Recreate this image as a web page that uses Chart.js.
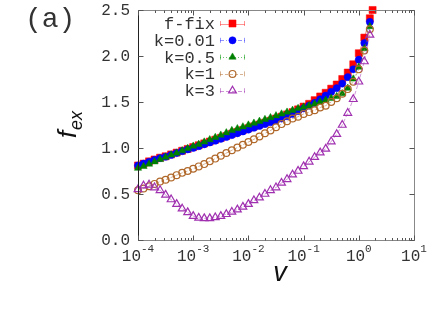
<!DOCTYPE html>
<html><head><meta charset="utf-8">
<script src="https://cdn.jsdelivr.net/npm/chart.js@4/dist/chart.umd.min.js"></script>
<style>html,body{margin:0;padding:0;background:#fff}#wrap{width:436px;height:312px}</style>
</head><body><div id="wrap"><canvas id="c" width="436" height="312"></canvas></div>
<script>
// exponents of v (log10 v) at which each series is sampled
const logV = [-4.0,-3.9,-3.8,-3.7,-3.6,-3.5,-3.4,-3.3,-3.2,-3.1,
              -3.0,-2.9,-2.8,-2.7,-2.6,-2.5,-2.4,-2.3,-2.2,-2.1,
              -2.0,-1.9,-1.8,-1.7,-1.6,-1.5,-1.4,-1.3,-1.2,-1.1,
              -1.0,-0.9,-0.8,-0.7,-0.6,-0.5,-0.4,-0.3,-0.2,-0.1,
               0.0, 0.1, 0.2];
const logVfix = logV.concat([0.25]);

const fFix = [0.81,0.83,0.855,0.875,0.895,0.91,0.93,0.95,0.97,0.99,
              1.01,1.03,1.05,1.07,1.09,1.11,1.13,1.155,1.175,1.195,
              1.215,1.235,1.255,1.275,1.295,1.32,1.34,1.365,1.39,1.42,
              1.45,1.48,1.52,1.56,1.60,1.645,1.69,1.75,1.82,1.91,
              2.03,2.2,2.41,2.5];
const k001 = [0.81,0.83,0.85,0.87,0.89,0.905,0.925,0.945,0.965,0.985,
              1.00,1.02,1.04,1.06,1.08,1.10,1.12,1.14,1.16,1.18,
              1.20,1.22,1.24,1.26,1.28,1.30,1.32,1.345,1.37,1.40,
              1.43,1.46,1.49,1.53,1.57,1.61,1.65,1.70,1.77,1.855,
              1.96,2.14,2.37];
const k05  = [0.78,0.80,0.825,0.85,0.875,0.90,0.925,0.945,0.97,0.995,
              1.02,1.04,1.065,1.09,1.115,1.14,1.165,1.19,1.21,1.23,
              1.25,1.27,1.29,1.31,1.33,1.35,1.37,1.39,1.41,1.43,
              1.445,1.46,1.48,1.50,1.52,1.54,1.56,1.59,1.65,1.75,
              1.88,2.08,2.32];
const k1   = [0.54,0.56,0.585,0.61,0.635,0.655,0.68,0.705,0.73,0.75,
              0.775,0.80,0.825,0.855,0.885,0.915,0.945,0.975,1.005,1.035,
              1.065,1.095,1.125,1.16,1.19,1.225,1.26,1.29,1.32,1.34,
              1.37,1.39,1.41,1.44,1.46,1.50,1.54,1.59,1.64,1.72,
              1.855,2.06,2.29];
const k3   = [0.55,0.59,0.60,0.57,0.54,0.49,0.44,0.39,0.34,0.30,
              0.26,0.24,0.235,0.235,0.245,0.26,0.28,0.305,0.33,0.36,
              0.39,0.43,0.46,0.50,0.54,0.57,0.62,0.66,0.71,0.75,
              0.80,0.85,0.90,0.95,0.99,1.07,1.15,1.25,1.38,1.53,
              1.72,1.94,2.23];

const seriesNames = ['f-fix','k=0.01','k=0.5','k=1','k=3'];
const yTicks = [0,0.5,1.0,1.5,2.0,2.5];
const yTickLabels = ['0.0','0.5','1.0','1.5','2.0','2.5'];
const xDecades = [-4,-3,-2,-1,0,1];
const xTickExps = ['-4','-3','-2','-1','0','1'];

function pts(lx, ys){ return ys.map((v,i)=>({x:Math.pow(10,lx[i]), y:v})); }

const styles = [
  {pt:'rect',     r:5,   fill:'#ff0000', stroke:'#ff0000', line:'rgba(255,60,60,0.55)', dash:[], open:false},
  {pt:'circle',   r:3.6, fill:'#0000ff', stroke:'#0000ff', line:'rgba(60,60,255,0.55)', dash:[4,2,1,2], open:false},
  {pt:'triangle', r:4.2, fill:'#008000', stroke:'#008000', line:'rgba(0,150,0,0.55)', dash:[1,2], open:false},
  {pt:'circle',   r:3.4, fill:'rgba(255,255,255,0)', stroke:'#b0682a', line:'rgba(176,104,42,0.5)', dash:[3,2], open:true},
  {pt:'triangle', r:4.5, fill:'rgba(255,255,255,0)', stroke:'#a030b0', line:'rgba(160,48,176,0.5)', dash:[4,2], open:true}
];
const seriesData = [pts(logVfix,fFix), pts(logV,k001), pts(logV,k05), pts(logV,k1), pts(logV,k3)];

const datasets = seriesData.map((d,i)=>({
  label: seriesNames[i], data: d, showLine:true, clip:false,
  borderColor: styles[i].line, borderWidth:1, borderDash: styles[i].dash,
  pointStyle: styles[i].pt, pointRadius: styles[i].r,
  pointBackgroundColor: styles[i].fill, pointBorderColor: styles[i].stroke,
  pointBorderWidth: styles[i].open ? 1.2 : 0.5,
  order: 5 - i, tension:0
}));

function marker(ctx, st, x, y){
  ctx.save();
  ctx.fillStyle = st.fill; ctx.strokeStyle = st.stroke; ctx.lineWidth = st.open?1.2:0.5;
  ctx.setLineDash([]);
  ctx.beginPath();
  if (st.pt==='rect'){ const s=Math.SQRT1_2*st.r; ctx.rect(x-s,y-s,2*s,2*s); }
  else if (st.pt==='circle'){ ctx.arc(x,y,st.r,0,Math.PI*2); }
  else { const r=st.r; for(let k=0;k<3;k++){const a=-Math.PI/2+k*2*Math.PI/3; const px=x+Math.cos(a)*r, py=y+Math.sin(a)*r; k?ctx.lineTo(px,py):ctx.moveTo(px,py);} ctx.closePath(); }
  if(!st.open) ctx.fill();
  ctx.stroke();
  ctx.restore();
}

const decor = {
  id:'decor',
  afterDraw(chart){
    const ctx = chart.ctx, a = chart.chartArea, xs = chart.scales.x, ys = chart.scales.y;
    const L = Math.round(a.left)+0.5, R = Math.round(a.right)+0.5, T = Math.round(a.top)+0.5, B = Math.round(a.bottom)+0.5;
    ctx.save();
    ctx.setLineDash([]);
    ctx.lineWidth = 1;
    // frame
    ctx.strokeStyle = '#888';
    ctx.beginPath(); ctx.moveTo(L,T); ctx.lineTo(R,T); ctx.lineTo(R,B); ctx.lineTo(L,B); ctx.stroke();
    ctx.strokeStyle = '#222';
    ctx.beginPath(); ctx.moveTo(L,T); ctx.lineTo(L,B); ctx.stroke();
    // y ticks
    ctx.strokeStyle = '#555';
    yTicks.forEach(v=>{
      const py = Math.round(ys.getPixelForValue(v))+0.5;
      ctx.beginPath(); ctx.moveTo(L,py); ctx.lineTo(L+5,py); ctx.moveTo(R,py); ctx.lineTo(R-5,py); ctx.stroke();
    });
    // x ticks
    xDecades.forEach((d,di)=>{
      const px = Math.round(xs.getPixelForValue(Math.pow(10,d)))+0.5;
      ctx.beginPath(); ctx.moveTo(px,B); ctx.lineTo(px,B-5); ctx.moveTo(px,T); ctx.lineTo(px,T+5); ctx.stroke();
      if (di < xDecades.length-1){
        for (let m=2;m<=9;m++){
          const qx = Math.round(xs.getPixelForValue(m*Math.pow(10,d)))+0.5;
          ctx.beginPath(); ctx.moveTo(qx,B); ctx.lineTo(qx,B-2.5); ctx.moveTo(qx,T); ctx.lineTo(qx,T+2.5); ctx.stroke();
        }
      }
    });
    // y labels
    ctx.fillStyle = '#333';
    ctx.font = '16px "Liberation Mono"';
    ctx.textAlign = 'right'; ctx.textBaseline = 'middle';
    yTicks.forEach((v,i)=>{ ctx.fillText(yTickLabels[i], a.left-8, ys.getPixelForValue(v)+1); });
    // x labels 10^n
    ctx.textAlign = 'left'; ctx.textBaseline = 'alphabetic';
    xDecades.forEach((d,i)=>{
      const px = xs.getPixelForValue(Math.pow(10,d));
      ctx.font = '16px "Liberation Mono"'; const w1 = ctx.measureText('10').width;
      ctx.font = '11px "Liberation Mono"'; const w2 = ctx.measureText(xTickExps[i]).width;
      const x0 = px - (w1+w2)/2;
      ctx.font = '16px "Liberation Mono"'; ctx.fillText('10', x0, a.bottom+21);
      ctx.font = '11px "Liberation Mono"'; ctx.fillText(xTickExps[i], x0+w1, a.bottom+12);
    });
    // axis titles
    ctx.fillStyle = '#111';
    ctx.font = 'italic 27px "Liberation Sans"';
    ctx.textAlign = 'center';
    ctx.fillText('v', (a.left+a.right)/2 + 4, a.bottom+41);
    ctx.save();
    ctx.translate(76, (a.top+a.bottom)/2);
    ctx.rotate(-Math.PI/2);
    ctx.textAlign = 'left';
    ctx.font = 'italic 26px "Liberation Sans"'; const wf = ctx.measureText('f').width;
    ctx.font = 'italic 18px "Liberation Sans"'; const we = ctx.measureText('ex').width;
    const sx = -(wf+we)/2;
    ctx.font = 'italic 26px "Liberation Sans"'; ctx.fillText('f', sx, 0);
    ctx.font = 'italic 18px "Liberation Sans"'; ctx.fillText('ex', sx+wf+1, 6);
    ctx.restore();
    // panel label
    ctx.fillStyle = '#333';
    ctx.font = '28px "Liberation Mono"';
    ctx.textAlign = 'left';
    ctx.fillText('(a)', 25, 27);
    // legend
    ctx.font = '17px "Liberation Mono"';
    ctx.textAlign = 'right'; ctx.textBaseline = 'middle';
    seriesNames.forEach((n,i)=>{
      const y = 23.5 + 16.8*i;
      ctx.fillStyle = '#333';
      ctx.fillText(n, 215, y+1);
      const st = styles[i];
      ctx.strokeStyle = st.line; ctx.lineWidth = 1;
      ctx.setLineDash(st.dash);
      ctx.beginPath(); ctx.moveTo(220, Math.round(y)+0.5); ctx.lineTo(245, Math.round(y)+0.5); ctx.stroke();
      ctx.setLineDash([]);
      ctx.beginPath(); ctx.moveTo(220.5, y-2.5); ctx.lineTo(220.5, y+2.5); ctx.moveTo(244.5, y-2.5); ctx.lineTo(244.5, y+2.5); ctx.stroke();
      marker(ctx, st, 232.5, y);
    });
    ctx.restore();
  }
};

new Chart(document.getElementById('c'), {
  type:'line',
  data:{ datasets },
  options:{
    responsive:false, animation:false, devicePixelRatio:1, events:[],
    layout:{ padding:{left:138, right:22, top:10, bottom:72} },
    plugins:{ legend:{display:false}, tooltip:{enabled:false} },
    scales:{
      x:{ type:'logarithmic', min:1e-4, max:10, display:false },
      y:{ type:'linear', min:0, max:2.5, display:false }
    }
  },
  plugins:[decor]
});
</script>
</body></html>
